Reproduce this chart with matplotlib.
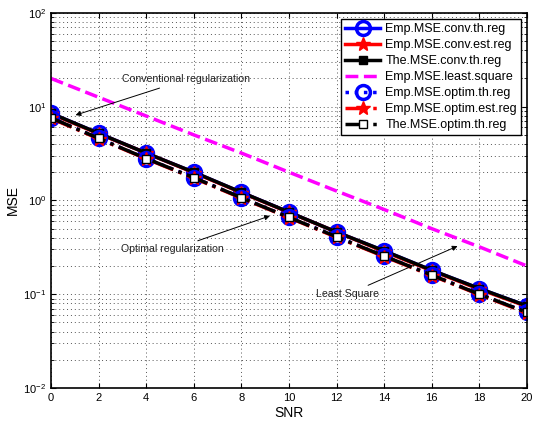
import matplotlib
matplotlib.use("Agg")
import matplotlib.pyplot as plt
from matplotlib.ticker import LogLocator, NullFormatter

plt.rcParams['font.family'] = ['Liberation Sans', 'DejaVu Sans']

snr = [0, 2, 4, 6, 8, 10, 12, 14, 16, 18, 20]

# values
emp_conv_th = [8.5, 5.2, 3.2, 2.0, 1.22, 0.75, 0.46, 0.29, 0.18, 0.115, 0.075]
emp_conv_est = [8.4, 5.15, 3.2, 1.98, 1.21, 0.745, 0.46, 0.285, 0.178, 0.113, 0.074]
the_conv_th = [8.5, 5.2, 3.2, 2.0, 1.22, 0.75, 0.46, 0.29, 0.18, 0.115, 0.075]
emp_ls = [20.0, 12.6, 7.95, 5.0, 3.2, 2.0, 1.26, 0.8, 0.5, 0.32, 0.2]
emp_opt_th = [7.6, 4.6, 2.8, 1.75, 1.07, 0.66, 0.41, 0.255, 0.16, 0.10, 0.064]
emp_opt_est = [7.5, 4.55, 2.78, 1.73, 1.06, 0.655, 0.405, 0.252, 0.158, 0.099, 0.063]
the_opt_th = [7.6, 4.6, 2.8, 1.75, 1.07, 0.66, 0.41, 0.255, 0.16, 0.10, 0.064]

fig = plt.figure(figsize=(5.33, 4.21), dpi=100)
ax = fig.add_axes([0.0957, 0.0784, 0.893, 0.891])

ax.semilogy(snr, emp_conv_th, color='blue', lw=2.5, marker='o', ms=10, mfc='none', mew=2.5,
            label='Emp.MSE.conv.th.reg')
ax.semilogy(snr, emp_conv_est, color='red', lw=2.5, marker='*', ms=10,
            label='Emp.MSE.conv.est.reg')
ax.semilogy(snr, the_conv_th, color='black', lw=2.5, marker='s', ms=6,
            label='The.MSE.conv.th.reg')
ax.semilogy(snr, emp_ls, color='magenta', lw=2.5, ls='--',
            label='Emp.MSE.least.square')
ax.semilogy(snr, emp_opt_th, color='blue', lw=2.5, ls=':', marker='o', ms=10, mfc='none', mew=2.5,
            label='Emp.MSE.optim.th.reg')
ax.semilogy(snr, emp_opt_est, color='red', lw=2.5, ls='-.', marker='*', ms=10,
            label='Emp.MSE.optim.est.reg')
ax.semilogy(snr, the_opt_th, color='black', lw=2.5, ls='-.', marker='s', ms=6, mfc='white',
            label='The.MSE.optim.th.reg')

ax.set_xlim(0, 20)
ax.set_ylim(1e-2, 1e2)
ax.set_xticks(range(0, 21, 2))
ax.yaxis.set_major_locator(LogLocator(base=10, numticks=10))
ax.yaxis.set_minor_locator(LogLocator(base=10, subs=range(2, 10), numticks=10))
ax.yaxis.set_minor_formatter(NullFormatter())
ax.tick_params(which='both', direction='in', top=True, right=True, labelsize=8)
grid_ls = (0, (1, 3))
ax.grid(True, which='major', ls=grid_ls, color='#555555', lw=0.7)
ax.grid(True, which='minor', axis='y', ls=grid_ls, color='#555555', lw=0.7)
for s in ax.spines.values():
    s.set_linewidth(1.2)

ax.set_xlabel('SNR', fontsize=10, labelpad=2)
ax.set_ylabel('MSE', fontsize=10, labelpad=2)

arrow = dict(arrowstyle='-|>', color='black', lw=0.7)
ax.annotate('Conventional regularization', xy=(0.92, 7.96), xytext=(3.0, 19.5),
            fontsize=7.6, color='#222222', va='center', arrowprops=arrow)
ax.annotate('Optimal regularization', xy=(9.31, 0.70), xytext=(2.95, 0.30),
            fontsize=7.6, color='#222222', va='center', arrowprops=arrow)
ax.annotate('Least Square', xy=(17.19, 0.335), xytext=(11.15, 0.1),
            fontsize=7.6, color='#222222', va='center', arrowprops=arrow)

leg = ax.legend(loc='upper right', fontsize=9, fancybox=False, framealpha=1,
                edgecolor='black', borderpad=0.35, labelspacing=0.32, handlelength=2.8,
                handletextpad=0.4, borderaxespad=0.45)
leg.get_frame().set_linewidth(1.0)

fig.savefig('out.png', dpi=100)
